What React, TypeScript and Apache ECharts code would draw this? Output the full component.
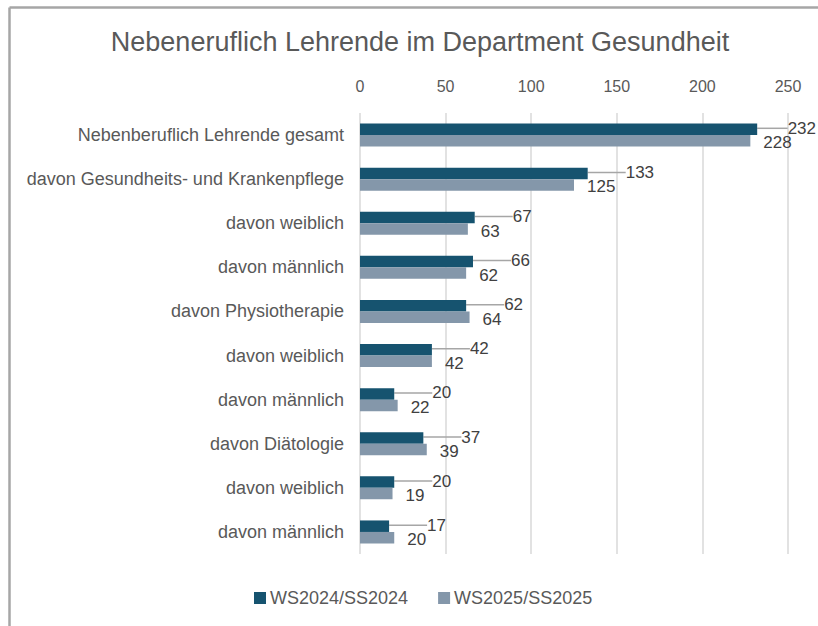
import React, { useEffect, useRef } from "react";
import * as echarts from "echarts";

const categories = [
  "Nebenberuflich Lehrende gesamt",
  "davon Gesundheits- und Krankenpflege",
  "davon weiblich",
  "davon männlich",
  "davon Physiotherapie",
  "davon weiblich",
  "davon männlich",
  "davon Diätologie",
  "davon weiblich",
  "davon männlich",
];
const seriesNames = ["WS2024/SS2024", "WS2025/SS2025"];
const ws2024 = [232, 133, 67, 66, 62, 42, 20, 37, 20, 17];
const ws2025 = [228, 125, 63, 62, 64, 42, 22, 39, 19, 20];
const axisTicks = { min: 0, max: 250, interval: 50 };
const titleText = "Nebeneruflich Lehrende im Department Gesundheit";

const FONT = '"Liberation Sans", Arial, sans-serif';
const WIDTH = 818;

export default function App() {
  const ref = useRef<HTMLDivElement>(null);
  useEffect(() => {
    if (!ref.current) return;
    const chart = echarts.init(ref.current, null, { renderer: "svg" });
    chart.setOption({
      animation: false,
      backgroundColor: "#ffffff",
      textStyle: { fontFamily: FONT },
      graphic: [
        {
          type: "line",
          shape: { x1: 9.5, y1: 7.5, x2: WIDTH, y2: 7.5 },
          style: { stroke: "#a6a6a6", lineWidth: 2.5 },
        },
        {
          type: "line",
          shape: { x1: 9.5, y1: 7.5, x2: 9.5, y2: 626 },
          style: { stroke: "#a6a6a6", lineWidth: 2.5 },
        },
        {
          type: "text",
          x: 420,
          y: 42,
          style: {
            text: titleText,
            align: "center",
            verticalAlign: "middle",
            fontSize: 27,
            fontFamily: FONT,
            fill: "#595959",
          },
        },
      ],
      legend: {
        left: 254,
        top: 589,
        padding: 0,
        itemWidth: 12,
        itemHeight: 12,
        itemGap: 30,
        icon: "rect",
        textStyle: { color: "#595959", fontSize: 18, fontFamily: FONT, padding: [0, 0, 0, -1] },
        data: seriesNames,
      },
      grid: { left: 360, right: 30, top: 113, bottom: 72, containLabel: false },
      xAxis: {
        type: "value",
        position: "top",
        min: axisTicks.min,
        max: axisTicks.max,
        interval: axisTicks.interval,
        axisLine: { show: false },
        axisTick: { show: false },
        axisLabel: { color: "#595959", fontSize: 16, margin: 19, fontFamily: FONT },
        splitLine: { show: true, lineStyle: { color: "#d9d9d9", width: 1.5 } },
      },
      yAxis: {
        type: "category",
        inverse: true,
        data: categories,
        axisLine: { show: false },
        axisTick: { show: false },
        axisLabel: { color: "#595959", fontSize: 18, margin: 16, fontFamily: FONT },
      },
      series: [
        {
          name: seriesNames[0],
          type: "bar",
          data: ws2024,
          barWidth: 11.5,
          barGap: "0%",
          itemStyle: { color: "#16536f" },
          label: {
            show: true,
            position: "right",
            distance: 5,
            color: "#404040",
            fontSize: 17,
            fontFamily: FONT,
          },
          labelLayout: (params: any) => {
            const r = params.labelRect;
            const room = WIDTH - 2 - (r.x + r.width);
            return { dx: Math.min(33, room), dy: -1 };
          },
          labelLine: { show: true, lineStyle: { color: "#a6a6a6", width: 1.5 } },
        },
        {
          name: seriesNames[1],
          type: "bar",
          data: ws2025,
          barWidth: 11.5,
          barGap: "0%",
          itemStyle: { color: "#8497aa" },
          label: {
            show: true,
            position: "right",
            distance: 13,
            color: "#404040",
            fontSize: 17,
            fontFamily: FONT,
          },
          labelLayout: { dy: 2 },
        },
      ],
    });
    return () => chart.dispose();
  }, []);
  return (
    <div
      ref={ref}
      style={{ position: "fixed", left: 0, top: 0, width: WIDTH, height: 626, background: "#fff" }}
    />
  );
}
